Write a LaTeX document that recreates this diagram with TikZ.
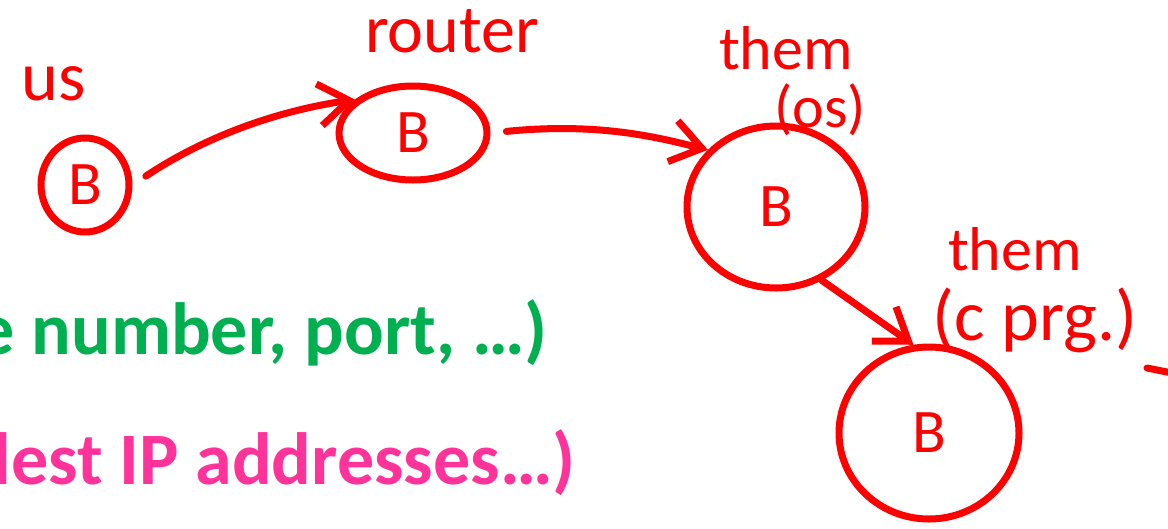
\documentclass[tikz,border=0pt]{standalone}
\usepackage{fontspec}
\setmainfont{Carlito}
\usetikzlibrary{shapes.geometric,arrows.meta}
\definecolor{inkred}{HTML}{FF0000}
\definecolor{okgreen}{HTML}{00B050}
\definecolor{okpink}{HTML}{FF3399}
\begin{document}
\begin{tikzpicture}[x=1pt,y=-1pt,
  blob/.style={draw=inkred,line width=7pt,ellipse,inner sep=0pt,text=inkred,
    font=\fontsize{62}{62}\selectfont},
  ink/.style={draw=inkred,line width=7pt,line cap=round,line join=round},
  arr/.style={ink,-{Straight Barb[length=30pt,width=42pt,line width=7pt]}},
  lbl/.style={text=inkred,inner sep=0pt,anchor=base},
  big/.style={inner sep=0pt,anchor=base east,font=\bfseries\fontsize{74}{74}\selectfont}]
\useasboundingbox (0,0) rectangle (1168,528);
% nodes
\node[blob,minimum width=88pt,minimum height=94pt] (us) at (85,185) {B};
\node[blob,minimum width=148pt,minimum height=94pt] (router) at (413,133) {B};
\node[blob,minimum width=178pt,minimum height=162pt] (os) at (776,207) {B};
\node[blob,minimum width=180pt,minimum height=172pt] (cprg) at (929,433) {B};
% labels
\node[lbl,font=\fontsize{70}{70}\selectfont] (lus) at (54,100) {us};
\node[lbl,font=\fontsize{68}{68}\selectfont] (lrouter) at (452,52) {router};
\node[lbl,font=\fontsize{62}{62}\selectfont] (los1) at (786,69) {them};
\node[lbl,font=\fontsize{60}{60}\selectfont] (los2) at (820,127) {(os)};
\node[lbl,font=\fontsize{62}{62}\selectfont] (lc1) at (1015,270) {them};
\node[lbl,font=\fontsize{72}{72}\selectfont] (lc2) at (1035,340) {(c prg.)};
% connectors
\draw[arr,shorten <=16pt] (us.east) .. controls (200,140) and (270,112) .. (router.150);
\draw[arr,shorten <=16pt] (router.east) .. controls (600,122) and (660,138) .. (os.140);
\draw[arr] (os.-58) -- (cprg.100);
% stray stroke at right edge
\coordinate (s1) at (1147,368);
\coordinate (s2) at (1172,373);
\draw[ink] (s1) -- (s2);
% text
\node[big,text=okgreen] (g) at (548,354) {e number, port, …)};
\node[big,text=okpink] (p) at (576,484) {dest IP addresses…)};
\end{tikzpicture}
\end{document}
